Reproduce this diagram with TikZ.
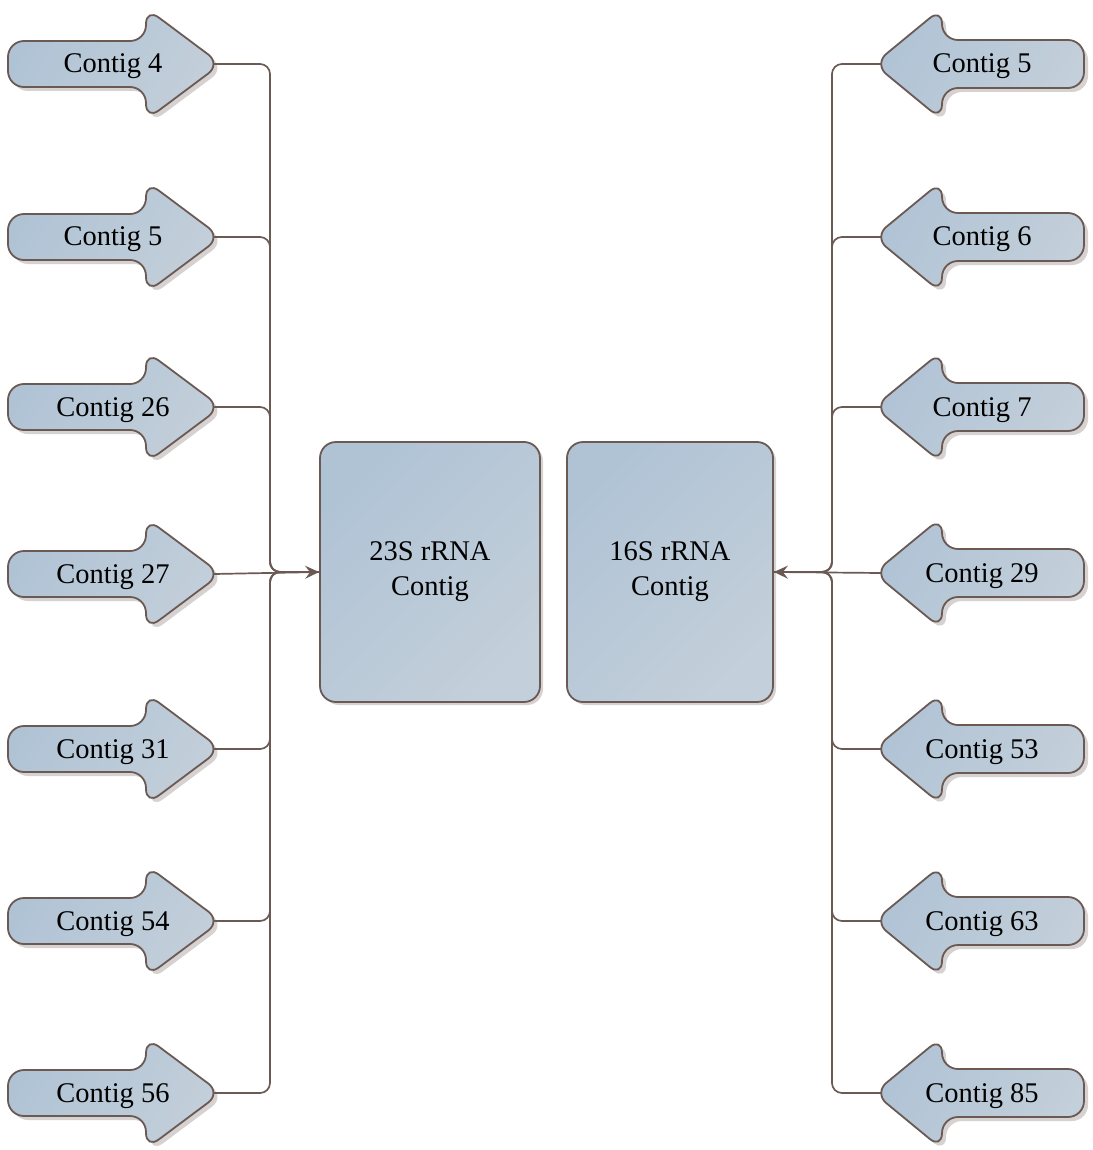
\documentclass[tikz,border=0pt]{standalone}
\usepackage{fontspec}
\setmainfont{Liberation Serif}
\usetikzlibrary{arrows.meta,shadows}
\definecolor{bc}{HTML}{6B5953}
\definecolor{fa}{HTML}{B0C3D5}
\definecolor{fb}{HTML}{C3CFDA}
\definecolor{shc}{HTML}{D6D2D1}
\begin{document}
\begin{tikzpicture}[x=1pt,y=-1pt,
  shp/.style={draw=bc, line width=1.8pt, rounded corners=16pt, top color=fa, bottom color=fb, shading angle=60},
  shd/.style={fill=shc, rounded corners=16pt},
  lbl/.style={font=\fontsize{28.5}{35}\selectfont, inner sep=0pt, text=black, anchor=base},
  boxs/.style={draw=bc, line width=1.8pt, rounded corners=16pt, top color=fa, bottom color=fb, shading angle=45,
    font=\fontsize{28.5}{35}\selectfont, align=center, inner sep=0pt,
    drop shadow={shadow xshift=3pt, shadow yshift=-3pt, fill=shc, opacity=1}},
  conn/.style={draw=bc, line width=1.7pt, rounded corners=10pt},
  tipend/.style={-{Stealth[length=14pt,width=13pt,inset=5pt]}}
]
\useasboundingbox (0,0) rectangle (1092,1150);

% left arrows
\foreach \n/\y/\t in {l1/64/Contig 4, l2/237/Contig 5, l3/407/Contig 26, l4/574/Contig 27, l5/749/Contig 31, l6/921/Contig 54, l7/1093/Contig 56}{
  \begin{scope}[shift={(0,\y)}]
    \path[shd, shift={(4,4)}] (8,-23) -- (146,-23) -- (146,-56) -- (221,0) -- (146,56) -- (146,23) -- (8,23) -- cycle;
    \path[shp] (8,-23) -- (146,-23) -- (146,-56) -- (221,0) -- (146,56) -- (146,23) -- (8,23) -- cycle;
    \node[lbl] (\n) at (113,9) {\t};
    \coordinate (\n t) at (214,0);
  \end{scope}
}

% right arrows
\foreach \n/\y/\t in {r1/64/Contig 5, r2/237/Contig 6, r3/407/Contig 7, r4/573/Contig 29, r5/749/Contig 53, r6/921/Contig 63, r7/1093/Contig 85}{
  \begin{scope}[shift={(0,\y)}]
    \path[shd, shift={(4,4)}] (1084,-24) -- (942,-24) -- (942,-56) -- (874,0) -- (942,56) -- (942,24) -- (1084,24) -- cycle;
    \path[shp] (1084,-24) -- (942,-24) -- (942,-56) -- (874,0) -- (942,56) -- (942,24) -- (1084,24) -- cycle;
    \node[lbl] (\n) at (982,9) {\t};
    \coordinate (\n t) at (881,0);
  \end{scope}
}

% boxes
\node[boxs, minimum width=220pt, minimum height=260pt] (b23) at (430,572) {23S rRNA\\Contig};
\node[boxs, minimum width=206pt, minimum height=260pt] (b16) at (670,572) {16S rRNA\\Contig};

% buses
\coordinate (lb) at (270,572);
\coordinate (rb) at (832,572);

\foreach \n in {l1,l2,l3,l5,l6,l7}
  \draw[conn] (\n t) -| (lb) -- (b23.west);
\draw[conn, tipend] (l4t) -- (b23.west);

\foreach \n in {r1,r2,r3,r5,r6,r7}
  \draw[conn] (\n t) -| (rb) -- (b16.east);
\draw[conn, tipend] (r4t) -- (b16.east);
\end{tikzpicture}
\end{document}
